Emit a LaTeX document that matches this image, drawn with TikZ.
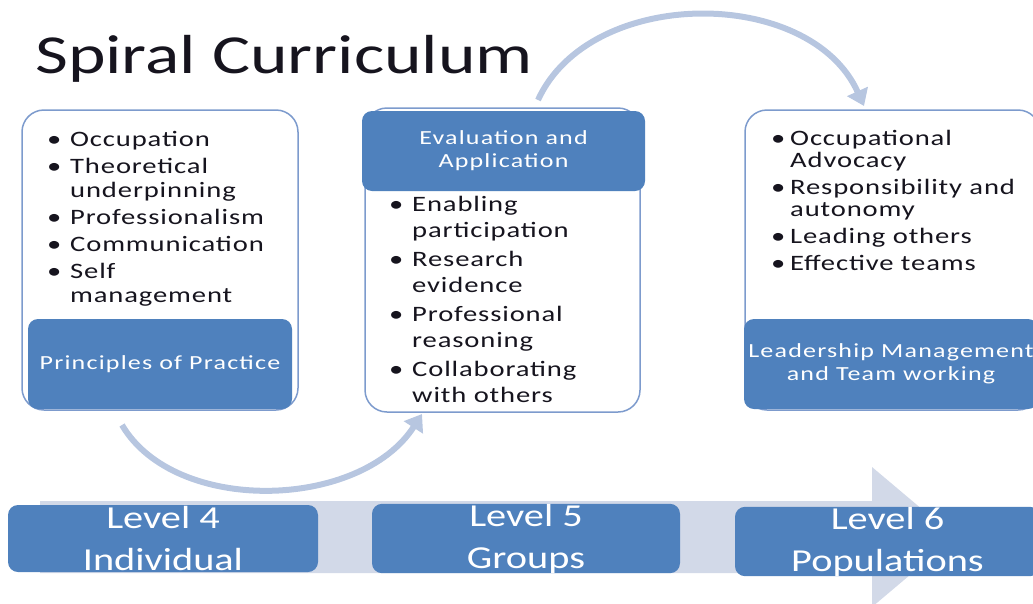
\documentclass[tikz,border=0pt]{standalone}
\usepackage{fontspec}
\setmainfont{Carlito}
\newfontfamily\widefont[FakeStretch=1.26]{Carlito}
\newfontfamily\titlefont[FakeStretch=1.3]{Carlito}
\newfontfamily\widesp[FakeStretch=1.3,LetterSpace=4]{Carlito}
\newfontfamily\headsp[FakeStretch=1.3,LetterSpace=6]{Carlito}
\usetikzlibrary{arrows.meta}
\definecolor{cblue}{RGB}{79,129,189}
\definecolor{cline}{RGB}{125,155,205}
\definecolor{carc}{RGB}{183,198,224}
\definecolor{cband}{RGB}{210,217,232}
\definecolor{ctext}{RGB}{22,20,30}
\newcommand{\bitem}[1]{\makebox[23pt][l]{\textbullet}#1}
\newcommand{\bcont}[1]{\hspace*{23pt}#1}
\tikzset{
  outbox/.style={draw=cline, line width=1.5pt, rounded corners=22pt, fill=white, inner sep=0pt},
  bluebox/.style={fill=cblue, rounded corners=10pt, inner sep=0pt, text=white, align=center,
     font=\headsp\fontsize{20}{23}\selectfont},
  levelbox/.style={fill=cblue, rounded corners=10pt, inner sep=0pt, text=white, align=center,
     font=\widefont\fontsize{32}{42}\selectfont},
  bullets/.style={inner sep=0pt, anchor=base west, text=ctext},
  arcline/.style={draw=carc, line width=6pt, -{Triangle[length=16pt,width=22pt]}}
}
\begin{document}
\begin{tikzpicture}[x=1pt,y=-1pt]
\useasboundingbox (0,0) rectangle (1033,603);
% title
\node[anchor=base west, inner sep=0pt, text=ctext, font=\titlefont\fontsize{55}{60}\selectfont] (title) at (35,73) {Spiral Curriculum};
% band arrow
\path[fill=cband] (40,501) -- (872,501) -- (872,467) -- (955,537) -- (872,607) -- (872,573) -- (40,573) -- cycle;
% arcs
\coordinate (a1s) at (122,425);
\coordinate (a1e) at (422,414);
\coordinate (a2s) at (538,100);
\coordinate (a2e) at (864,106);
\draw[arcline] (a1s) .. controls (175,515) and (360,510) .. (a1e);
\draw[arcline] (a2s) .. controls (590,-14) and (810,-14) .. (a2e);
% box 1
\node[outbox, minimum width=276pt, minimum height=300pt] (b1) at (160,260) {};
\node[bluebox, minimum width=264pt, minimum height=90pt] (h1) at (160,364) {Principles of Practice};
\node[bullets] (l1) at (47,146) {\parbox[t]{250pt}{\raggedright\widesp\fontsize{22}{24}\selectfont
\bitem{Occupation}\\[3pt]
\bitem{Theoretical}\\
\bcont{underpinning}\\[3pt]
\bitem{Professionalism}\\[3pt]
\bitem{Communication}\\[3pt]
\bitem{Self}\\
\bcont{management}}};
% box 2
\node[outbox, minimum width=275pt, minimum height=304pt] (b2) at (502.5,260) {};
\node[bluebox, minimum width=283pt, minimum height=80pt] (h2) at (503.5,151) {Evaluation and\\Application};
\node[bullets] (l2) at (389,211) {\parbox[t]{250pt}{\raggedright\widesp\fontsize{22}{26}\selectfont
\bitem{Enabling}\\
\bcont{participation}\\[3pt]
\bitem{Research}\\
\bcont{evidence}\\[3pt]
\bitem{Professional}\\
\bcont{reasoning}\\[3pt]
\bitem{Collaborating}\\
\bcont{with others}}};
% box 3
\node[outbox, minimum width=295pt, minimum height=300pt] (b3) at (892.5,260) {};
\node[bluebox, minimum width=294pt, minimum height=90pt] (h3) at (891,364) {Leadership Management\\and Team working};
\node[bullets] (l3) at (771,145) {\parbox[t]{265pt}{\raggedright\widesp\fontsize{22}{22}\selectfont
\makebox[19pt][l]{\textbullet}Occupational\\
\hspace*{19pt}Advocacy\\[5pt]
\makebox[19pt][l]{\textbullet}Responsibility and\\
\hspace*{19pt}autonomy\\[5pt]
\makebox[19pt][l]{\textbullet}Leading others\\[5pt]
\makebox[19pt][l]{\textbullet}Effective teams}};
% levels
\node[levelbox, minimum width=310pt, minimum height=67pt] (v4) at (163,538.5) {Level 4\\Individual};
\node[levelbox, minimum width=308pt, minimum height=67pt] (v5) at (526,538.5) {Level 5\\Groups};
\node[levelbox, minimum width=305pt, minimum height=67pt] (v6) at (887.5,541.5) {Level 6\\Populations};
\end{tikzpicture}
\end{document}
